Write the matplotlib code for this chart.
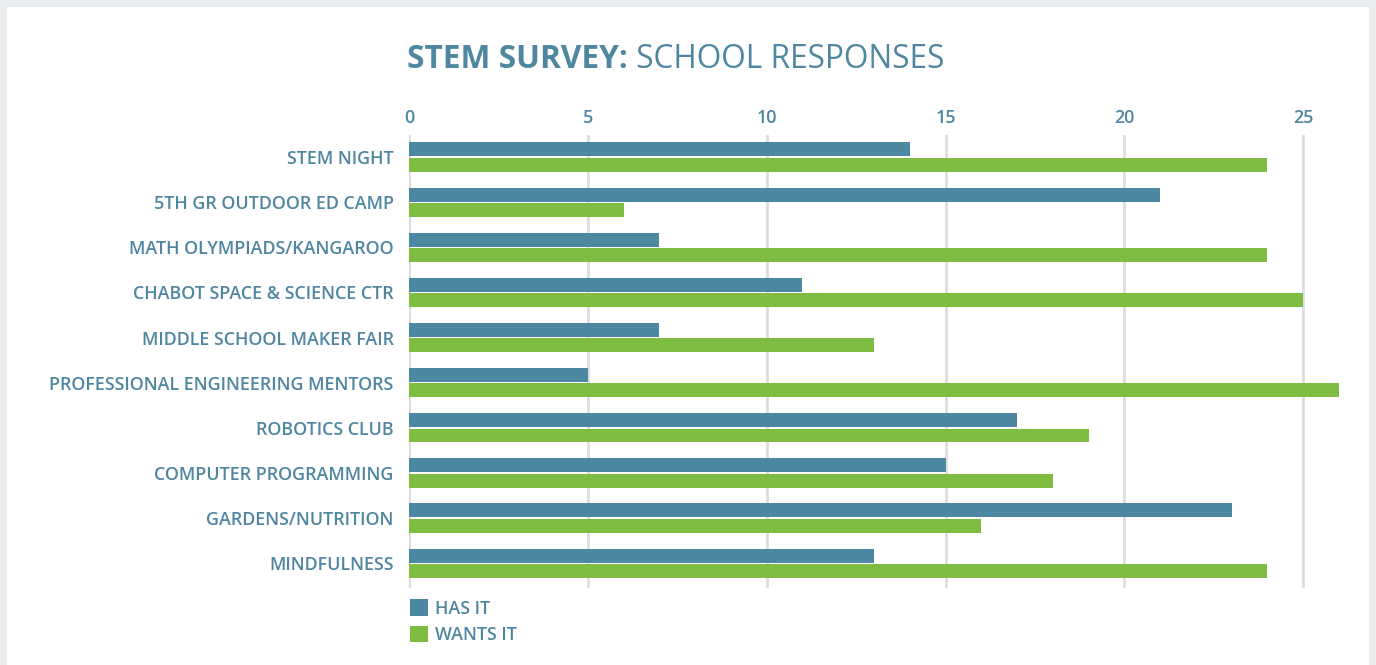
import matplotlib
matplotlib.use("Agg")
import matplotlib.pyplot as plt
from matplotlib.lines import Line2D
from matplotlib.transforms import offset_copy

categories = [
    "STEM NIGHT",
    "5TH GR OUTDOOR ED CAMP",
    "MATH OLYMPIADS/KANGAROO",
    "CHABOT SPACE & SCIENCE CTR",
    "MIDDLE SCHOOL MAKER FAIR",
    "PROFESSIONAL ENGINEERING MENTORS",
    "ROBOTICS CLUB",
    "COMPUTER PROGRAMMING",
    "GARDENS/NUTRITION",
    "MINDFULNESS",
]
has_it = [14, 21, 7, 11, 7, 5, 17, 15, 23, 13]
wants_it = [24, 6, 24, 25, 13, 26, 19, 18, 16, 24]
x_ticks = [0, 5, 10, 15, 20, 25]

BLUE = "#4d88a2"
GREEN = "#7fbd42"
TEXT = "#4f87a0"
GRID = "#dddddd"
FRAME = "#e8ecef"

plt.rcParams["font.family"] = ["Open Sans", "DejaVu Sans"]

fig = plt.figure(figsize=(13.76, 6.65), dpi=100)
fig.patch.set_facecolor("white")
# light gray frame on left, top and right of the card
for xs, ys_ in [((0, 0), (0, 1)), ((0, 1), (1, 1)), ((1, 1), (0, 1))]:
    fig.add_artist(Line2D(xs, ys_, transform=fig.transFigure, color=FRAME, linewidth=10))

ax = fig.add_axes([409 / 1376, 1 - 588 / 665, (1339 - 409) / 1376, (588 - 135) / 665])
ys = list(range(len(categories)))
h = 0.31
ax.barh([y - 0.17 for y in ys], has_it, height=h, color=BLUE, label="HAS IT", zorder=3)
ax.barh([y + 0.17 for y in ys], wants_it, height=h, color=GREEN, label="WANTS IT", zorder=3)

ax.set_xlim(0, 26)
ax.set_ylim(9.55, -0.49)
ax.set_yticks(ys)
ax.set_yticklabels(categories)
ax.set_xticks(x_ticks)
ax.xaxis.tick_top()
ax.tick_params(axis="both", length=0, labelsize=12.9, labelcolor=TEXT)
ax.tick_params(axis="x", pad=5.5)
ax.tick_params(axis="y", pad=11)
for lbl in ax.get_xticklabels() + ax.get_yticklabels():
    lbl.set_fontweight("semibold")
ax.grid(axis="x", color=GRID, linewidth=2, zorder=0)
ax.axvline(0, color=GRID, linewidth=2, zorder=1)
for s in ax.spines.values():
    s.set_visible(False)

leg = fig.legend(loc="upper left", bbox_to_anchor=(394 / 1376, 1 - 583 / 665),
                 frameon=False, handlelength=1.0, handleheight=1.05,
                 handletextpad=0.4, labelspacing=0.45, fontsize=12.9)
for t in leg.get_texts():
    t.set_color(TEXT)
    t.set_fontweight("semibold")

t1 = fig.text(407 / 1376, 1 - 68 / 665, "STEM SURVEY:", fontsize=22.8, fontweight="bold",
              color=TEXT, va="baseline")
fig.canvas.draw()
w = t1.get_window_extent().width
fig.text(407 / 1376, 1 - 68 / 665, " SCHOOL RESPONSES", fontsize=22.8, color=TEXT,
         va="baseline",
         transform=offset_copy(fig.transFigure, fig=fig, x=w, y=0, units="dots"))

fig.savefig("out.png", dpi=100, facecolor="white")
